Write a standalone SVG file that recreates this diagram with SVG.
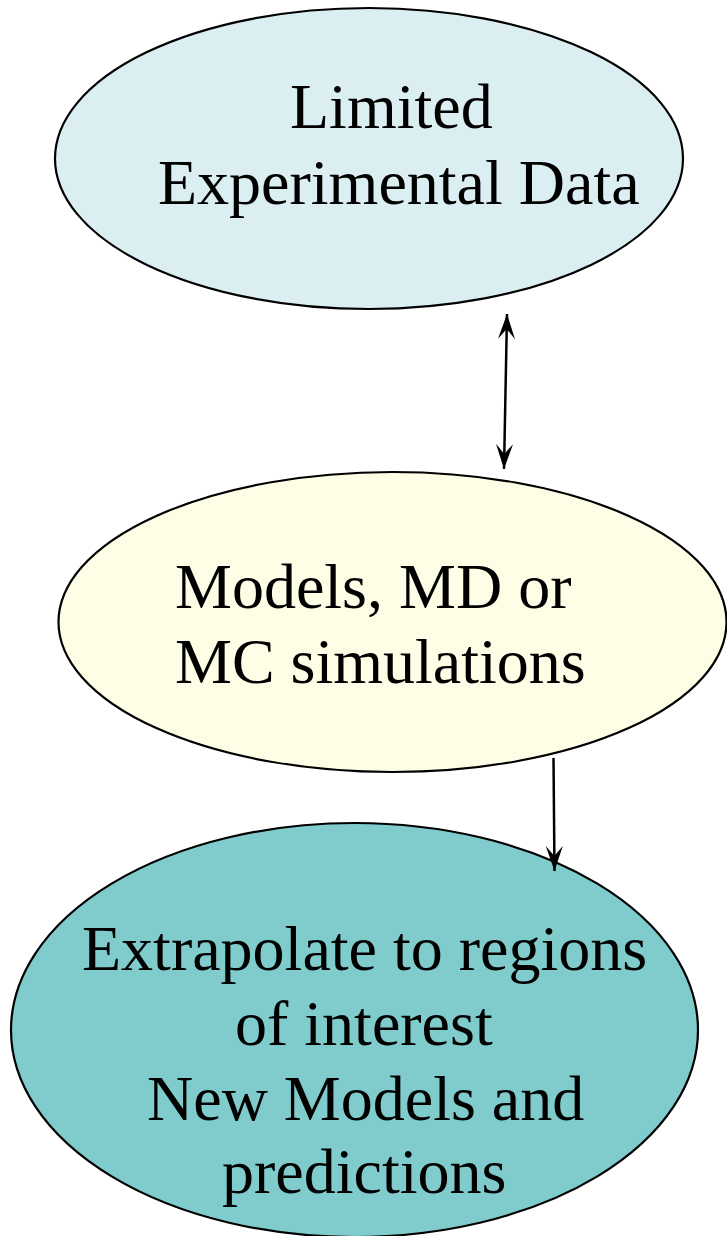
<svg xmlns="http://www.w3.org/2000/svg" width="727" height="1236" viewBox="0 0 727 1236">
<defs>
<marker id="ah" markerUnits="userSpaceOnUse" markerWidth="30" markerHeight="22" viewBox="-26 -11 28 22" refX="0" refY="0" orient="auto-start-reverse">
<path d="M0,0 L-25,-8.5 L-15,0 L-25,8.5 Z" fill="#000"/>
</marker>
</defs>
<style>
.node ellipse{stroke:#000;stroke-width:2.2}
.node text{font-family:"Liberation Serif","Times New Roman",serif;font-size:64px;fill:#000}
.conn line{stroke:#000;stroke-width:2.5}
</style>
<g id="n1" class="node">
<ellipse cx="369" cy="158.5" rx="314" ry="150.5" fill="#DBEEF1"/>
<text x="290" y="128">Limited</text>
<text x="158" y="204">Experimental Data</text>
</g>
<g id="n2" class="node">
<ellipse cx="392.5" cy="622" rx="334" ry="150" fill="#FEFEE6"/>
<text x="175" y="608">Models, MD or</text>
<text x="175" y="683">MC simulations</text>
</g>
<g id="n3" class="node">
<ellipse cx="354.5" cy="1030" rx="343.5" ry="207" fill="#80CBCB"/>
<text x="82" y="970">Extrapolate to regions</text>
<text x="235" y="1045">of interest</text>
<text x="147" y="1120">New Models and</text>
<text x="222" y="1193">predictions</text>
</g>
<g id="connectors" class="conn">
<line x1="507" y1="314" x2="504" y2="469" marker-start="url(#ah)" marker-end="url(#ah)"/>
<line x1="553.5" y1="758" x2="554.5" y2="871" marker-end="url(#ah)"/>
</g>
</svg>
